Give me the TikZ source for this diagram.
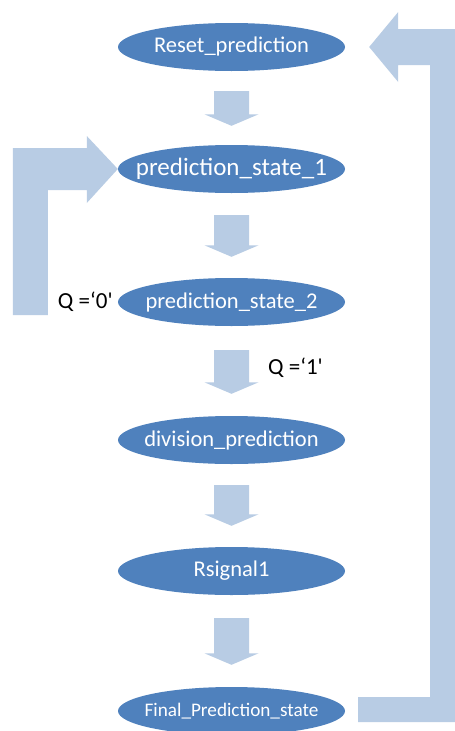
\documentclass[tikz,border=0pt]{standalone}
\usepackage{fontspec}
\newfontfamily\calfont{Carlito}
\usetikzlibrary{calc,shapes.geometric}
\definecolor{ellblue}{RGB}{79,129,189}
\definecolor{arrowfill}{RGB}{184,204,228}
\tikzset{
  state/.style={ellipse, fill=ellblue, text=white, minimum width=227pt, minimum height=48pt, inner sep=0pt, font=\calfont\fontsize{22.5}{27}\selectfont},
  lbl/.style={inner sep=0pt, text=black, font=\calfont\fontsize{23}{27}\selectfont},
  blockfill/.style={fill=arrowfill}
}
\newcommand\ztext[1]{\makebox[0pt][c]{#1}}
\newcommand\blockdown[4]{%
  \fill[blockfill] ($(#1.south)+(-17.5,#3)$) -- ($(#1.south)+(17.5,#3)$) --
    ($(#2.north)+(17.5,-#4-11.5)$) -- ($(#2.north)+(27,-#4-11.5)$) --
    ($(#2.north)+(0,-#4)$) -- ($(#2.north)+(-27,-#4-11.5)$) --
    ($(#2.north)+(-17.5,-#4-11.5)$) -- cycle;}
\begin{document}
\begin{tikzpicture}[x=1pt,y=-1pt]
\useasboundingbox (0,0) rectangle (455,731);
\clip (0,0) rectangle (455,731);
\fill[white] (0,0) rectangle (455,731);
\node[state] (r) at (231.5,47) {\ztext{Reset\_prediction}};
\node[state, font=\calfont\fontsize{25}{30}\selectfont] (p1) at (231.5,169) {\ztext{prediction\_state\_1}};
\node[state] (p2) at (231.5,302) {\ztext{prediction\_state\_2}};
\node[state] (d) at (231.5,440) {\ztext{division\_prediction}};
\node[state] (s) at (231.5,571) {\ztext{Rsignal1}};
\node[state, font=\calfont\fontsize{19.2}{23}\selectfont] (f) at (231.5,711) {\ztext{Final\_Prediction\_state}};
\blockdown{r}{p1}{20}{19}
\blockdown{p1}{p2}{22}{21}
\blockdown{p2}{d}{24}{22}
\blockdown{d}{s}{21}{21}
\blockdown{s}{f}{23}{22}
% left loop arrow into prediction_state_1
\fill[blockfill] ($(p1.west)+(-105,146)$) -- ($(p1.west)+(-105,-21)$) -- ($(p1.west)+(-31,-21)$) --
  ($(p1.west)+(-31,-33)$) -- (p1.west) -- ($(p1.west)+(-31,34)$) -- ($(p1.west)+(-31,21)$) --
  ($(p1.west)+(-70,21)$) -- ($(p1.west)+(-70,146)$) -- cycle;
% right loop arrow from Final back to Reset
\coordinate (rtip) at ($(r.east)+(24,0)$);
\coordinate (fstart) at ($(f.east)+(13,0)$);
\fill[blockfill] ($(fstart)+(0,-14)$) -- ($(fstart)+(72,-14)$) -- ($(rtip)+(61,18)$) --
  ($(rtip)+(29,18)$) -- ($(rtip)+(29,35)$) -- (rtip) -- ($(rtip)+(29,-35)$) --
  ($(rtip)+(29,-18)$) -- ($(rtip)+(93,-18)$) -- ($(fstart)+(104,11)$) -- ($(fstart)+(0,11)$) -- cycle;
\node[lbl, anchor=east] (q0) at ($(p2.west)+(-5,0)$) {Q =‘0'};
\node[lbl, anchor=west] (q1) at (268,368) {Q =‘1'};
\end{tikzpicture}
\end{document}
